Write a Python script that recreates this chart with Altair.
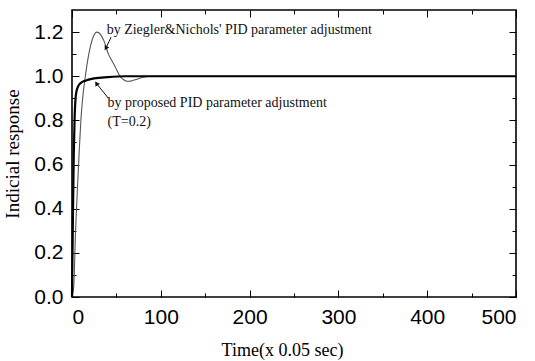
import altair as alt
import pandas as pd

# Step responses (time in units of 0.05 s)
zn_time = [0, 2, 4, 6, 8, 10, 12, 15, 18, 21, 24, 28, 32, 36, 41, 45, 49, 54, 58, 62, 66,
           72, 80, 90, 100, 150, 200, 300, 400, 500]
zn_resp = [0, 0.05, 0.3, 0.48, 0.65, 0.8, 0.9, 1.0, 1.08, 1.14, 1.18, 1.2, 1.19, 1.16, 1.10,
           1.07, 1.04, 1.0, 0.985, 0.977, 0.978, 0.985, 0.995, 1.0, 1.0, 1.0, 1.0, 1.0, 1.0, 1.0]

prop_time = [0, 1, 2, 3, 4, 5, 7, 10, 15, 25, 40, 60, 100, 200, 300, 400, 500]
prop_resp = [0, 0.35, 0.65, 0.82, 0.9, 0.93, 0.955, 0.97, 0.98, 0.99, 0.996, 1.0, 1.0, 1.0,
             1.0, 1.0, 1.0]

# Annotations
ann_text = ["by Ziegler&Nichols' PID parameter adjustment",
            "by proposed PID parameter adjustment",
            "(T=0.2)"]
ann_t = [39, 40, 40]
ann_v = [1.209, 0.879, 0.793]

arrow_t0 = [44, 41]
arrow_v0 = [1.177, 0.9]
arrow_t1 = [38.5, 28]
arrow_v1 = [1.13, 0.965]
arrow_angle = [210, 326]

major_x = [0, 100, 200, 300, 400, 500]
minor_x = [50, 150, 250, 350, 450]
major_y = [0.0, 0.2, 0.4, 0.6, 0.8, 1.0, 1.2]
minor_y = [0.1, 0.3, 0.5, 0.7, 0.9, 1.1]

zn_df = pd.DataFrame({"t": zn_time, "v": zn_resp})
prop_df = pd.DataFrame({"t": prop_time, "v": prop_resp})
ann_df = pd.DataFrame({"t": ann_t, "v": ann_v, "label": ann_text})
arr_df = pd.DataFrame({"t0": arrow_t0, "v0": arrow_v0, "t1": arrow_t1, "v1": arrow_v1,
                       "angle": arrow_angle})

xs = alt.Scale(domain=[0, 500], nice=False)
ys = alt.Scale(domain=[0, 1.3], nice=False)

LBL = dict(labelFont="Liberation Sans", labelFontSize=21, labelColor="black",
           tickColor="black", tickWidth=1, domain=False, grid=False)


def tick_axis(orient, values, size, labels=False, title=None, **kw):
    """Inward-pointing ticks: the axis is pulled inside the frame by its tick length."""
    opts = dict(LBL)
    opts.update(orient=orient, values=values, tickSize=size, offset=-size, labels=labels)
    if title is not None:
        opts.update(title=title, titleFont="Liberation Serif",
                    titleFontWeight="normal", titleColor="black")
    else:
        opts.update(title=None)
    opts.update(kw)
    return alt.Axis(**opts)


zn = alt.Chart(zn_df).mark_line(color="#555555", strokeWidth=1.1, interpolate="monotone").encode(
    x=alt.X("t:Q", scale=xs,
            axis=tick_axis("bottom", major_x, 7, labels=True, title="Time(x 0.05 sec)",
                           titleFontSize=18, labelPadding=9, titlePadding=14, format="d",
                           titleX=210, titleAlign="center")),
    y=alt.Y("v:Q", scale=ys,
            axis=tick_axis("left", major_y, 7, labels=True, title="Indicial response",
                           titleFontSize=19, labelPadding=9, titlePadding=11, format=".1f")),
)

prop = alt.Chart(prop_df).mark_line(color="black", strokeWidth=2.2, interpolate="monotone").encode(
    x=alt.X("t:Q", scale=xs, axis=tick_axis("bottom", minor_x, 4)),
    y=alt.Y("v:Q", scale=ys, axis=tick_axis("left", minor_y, 4)),
)

ann = alt.Chart(ann_df).mark_text(align="left", baseline="middle", font="Liberation Serif",
                                  fontSize=14, color="#111111").encode(
    x=alt.X("t:Q", scale=xs, axis=tick_axis("top", major_x, 7)),
    y=alt.Y("v:Q", scale=ys, axis=tick_axis("right", major_y, 7)),
    text="label:N",
)

arrows = alt.Chart(arr_df).mark_rule(color="#111111", strokeWidth=1).encode(
    x=alt.X("t0:Q", scale=xs, axis=tick_axis("top", minor_x, 4)),
    y=alt.Y("v0:Q", scale=ys, axis=tick_axis("right", minor_y, 4)),
    x2="t1:Q",
    y2="v1:Q",
)

heads = alt.Chart(arr_df).mark_point(shape="triangle", filled=True, color="#111111",
                                     size=28, opacity=1).encode(
    x=alt.X("t1:Q", scale=xs, axis=None),
    y=alt.Y("v1:Q", scale=ys, axis=None),
    angle=alt.Angle("angle:Q", scale=None),
)

chart = alt.layer(zn, prop, ann, arrows, heads).resolve_axis(
    x="independent", y="independent"
).properties(
    width=444, height=287,
    autosize=alt.AutoSizeParams(type="none"),
    padding={"left": 72, "top": 10, "right": 19, "bottom": 64},
    background="white",
).configure_view(stroke="black", strokeWidth=1.6)

chart.save("out.html", embed_options={"renderer": "svg", "actions": False})
